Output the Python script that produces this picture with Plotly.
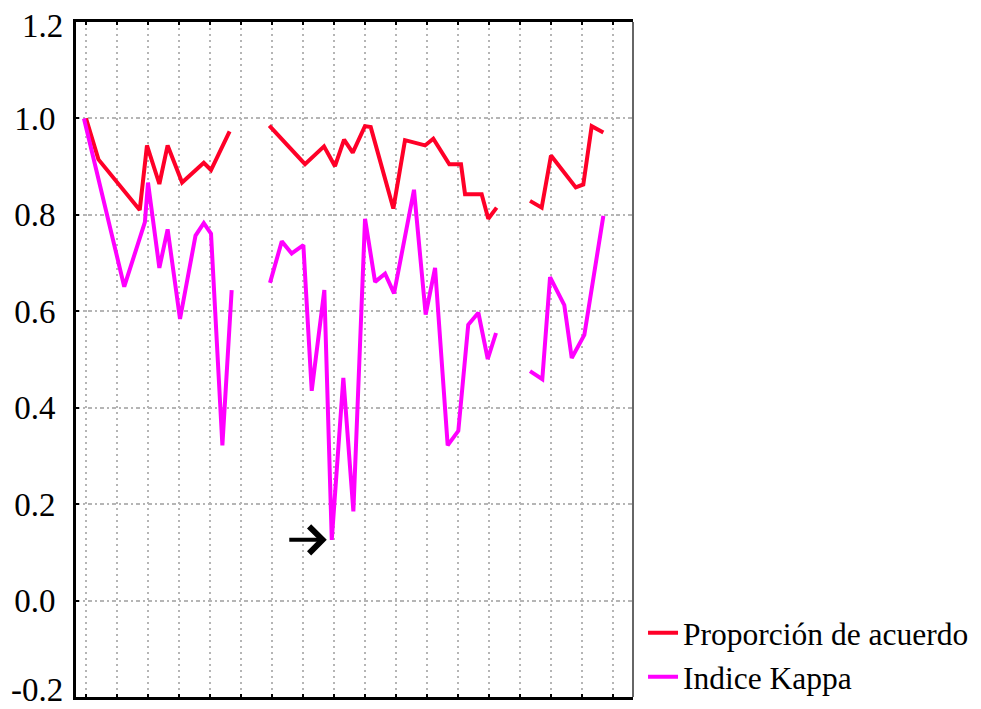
import plotly.graph_objects as go

# ---- data (x in sample-position units, y values) ----
red_x1 = [0.0, 1.2, 5.2, 5.9, 7.1, 7.9, 9.3, 11.4, 12.1, 13.9]
red_y1 = [1.0, 0.915, 0.81, 0.944, 0.864, 0.944, 0.867, 0.908, 0.893, 0.973]
red_x2 = [17.74, 21.2, 23.04, 24.1, 24.98, 25.82, 27.0, 27.56, 29.75, 30.88,
          32.82, 33.62, 35.17, 36.3, 36.69, 38.3, 38.94, 39.75]
red_y2 = [0.985, 0.905, 0.942, 0.901, 0.956, 0.929, 0.984, 0.982, 0.813, 0.955,
          0.944, 0.958, 0.905, 0.905, 0.843, 0.843, 0.792, 0.815]
red_x3 = [42.98, 44.11, 45.01, 47.41, 48.14, 48.95, 50.08]
red_y3 = [0.829, 0.815, 0.923, 0.857, 0.863, 0.984, 0.971]

pink_x1 = [-0.2, 3.7, 5.7, 6.0, 7.1, 7.9, 9.1, 10.6, 11.4, 12.1, 13.2, 14.1]
pink_y1 = [1.0, 0.651, 0.785, 0.867, 0.69, 0.77, 0.584, 0.757, 0.783, 0.761, 0.322, 0.644]
pink_x2 = [17.81, 18.95, 19.91, 21.04, 21.85, 23.07, 23.79, 24.91, 25.88, 27.01, 27.98,
           28.95, 29.82, 31.75, 32.88, 33.79, 35.01, 36.04, 37.0, 37.98, 38.89, 39.69]
pink_y2 = [0.659, 0.745, 0.72, 0.737, 0.435, 0.644, 0.126, 0.462, 0.185, 0.792, 0.661,
           0.678, 0.637, 0.852, 0.593, 0.69, 0.322, 0.352, 0.572, 0.597, 0.501, 0.555]
pink_x3 = [42.98, 44.17, 44.92, 46.3, 47.02, 48.24, 50.08]
pink_y3 = [0.476, 0.459, 0.671, 0.613, 0.503, 0.551, 0.798]

y_ticks = [-0.2, 0.0, 0.2, 0.4, 0.6, 0.8, 1.0, 1.2]
y_labels = ["-0.2", "0.0", "0.2", "0.4", "0.6", "0.8", "1.0", "1.2"]

series_names = ["Proporción de acuerdo", "Indice Kappa"]
RED = "#ff0028"
PINK = "#ff00ff"
LABEL_FONT = dict(family="Liberation Serif", size=33, color="black")


def join(*parts):
    xs, ys = [], []
    for i, (px, py) in enumerate(parts):
        if i:
            xs.append(None)
            ys.append(None)
        xs += px
        ys += py
    return xs, ys


rx, ry = join((red_x1, red_y1), (red_x2, red_y2), (red_x3, red_y3))
kx, ky = join((pink_x1, pink_y1), (pink_x2, pink_y2), (pink_x3, pink_y3))

fig = go.Figure()
fig.add_trace(go.Scatter(x=rx, y=ry, mode="lines", name=series_names[0],
                         line=dict(color=RED, width=4), connectgaps=False))
fig.add_trace(go.Scatter(x=kx, y=ky, mode="lines", name=series_names[1],
                         line=dict(color=PINK, width=4), connectgaps=False))

# arrow pointing to the Kappa minimum
min_i = pink_y2.index(min(pink_y2))
fig.add_annotation(x=pink_x2[min_i], y=pink_y2[min_i], xref="x", yref="y",
                   text="", showarrow=True, ax=-44, ay=0, standoff=5,
                   arrowhead=4, arrowsize=1.3, arrowwidth=4, arrowcolor="black")

# edge tick labels (drawn as annotations so they stay inside the page, as in the original)
inner_text = [t if v not in (y_ticks[0], y_ticks[-1]) else "" for v, t in zip(y_ticks, y_labels)]
fig.add_annotation(x=0, xref="paper", y=y_ticks[-1], yref="y", text=y_labels[-1],
                   showarrow=False, xanchor="right", yanchor="middle",
                   xshift=-12, yshift=-4, font=LABEL_FONT, borderpad=0)
fig.add_annotation(x=0, xref="paper", y=y_ticks[0], yref="y", text=y_labels[0],
                   showarrow=False, xanchor="right", yanchor="middle",
                   xshift=-12, yshift=7, font=LABEL_FONT, borderpad=0)

# thin right border
fig.add_shape(type="line", xref="paper", yref="paper", x0=1, x1=1, y0=0, y1=1,
              line=dict(color="#333333", width=1.5))

fig.update_layout(
    width=973, height=701,
    margin=dict(l=68, r=348, t=14, b=12, autoexpand=False),
    paper_bgcolor="white", plot_bgcolor="white",
    font=dict(family="Liberation Serif", size=22, color="black"),
    showlegend=True,
    legend=dict(x=1.018, y=-0.01, xanchor="left", yanchor="bottom",
                font=dict(family="Liberation Serif", size=31.5, color="black"),
                itemwidth=30, tracegroupgap=0, bgcolor="rgba(0,0,0,0)"),
    xaxis=dict(range=[-0.97, 52.95], tickmode="linear", tick0=0, dtick=3,
               showticklabels=False, showgrid=True, gridcolor="#b5b5b5",
               griddash="2px,4px", gridwidth=2, zeroline=False, automargin=False,
               showline=True, linecolor="black", linewidth=3, mirror="ticks",
               ticks="inside", ticklen=3, tickwidth=2, tickcolor="black"),
    yaxis=dict(range=[-0.2, 1.2], tickmode="array", tickvals=y_ticks, ticktext=inner_text,
               showgrid=True, gridcolor="#b5b5b5", griddash="4px,3px,2px,3px", gridwidth=2,
               zeroline=False, showline=True, linecolor="black", linewidth=3,
               automargin=False, ticklabeloverflow="allow",
               ticks="inside", ticklen=3, tickwidth=2, tickcolor="black",
               ticklabelstandoff=11, tickfont=LABEL_FONT),
)

fig.write_html("out.html")
